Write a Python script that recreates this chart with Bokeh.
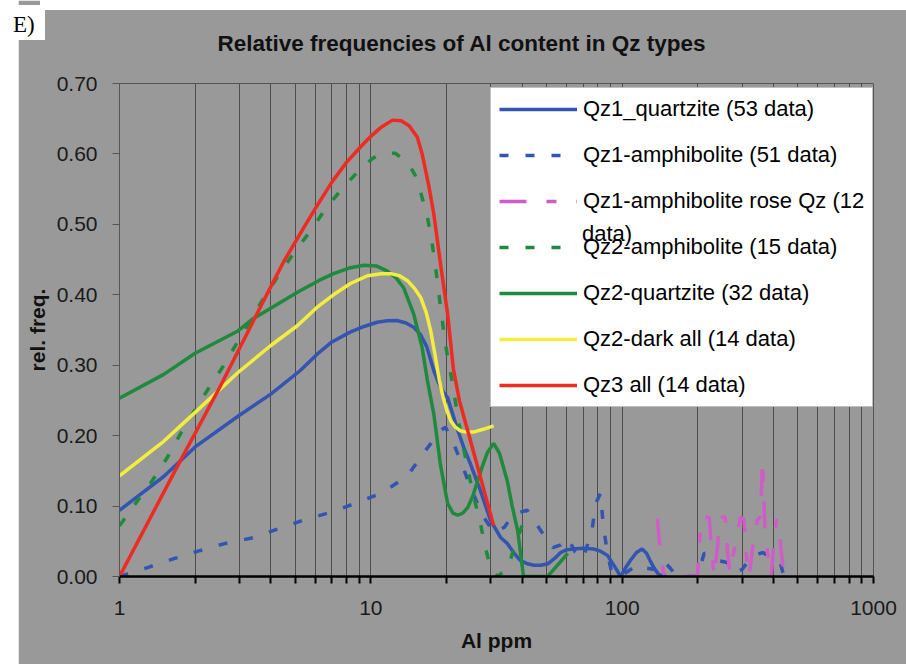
from bokeh.plotting import figure
from bokeh.layouts import row
from bokeh.models import (Legend, LegendItem, FixedTicker, Div, Spacer,
                          NumeralTickFormatter, PrintfTickFormatter)
from bokeh.embed import file_html
from bokeh.resources import INLINE

FONT = "Liberation Sans"

# ---------------- data ----------------
qz1_quartzite_x = [1, 1.5, 2, 3, 4, 5.24, 6.13, 7, 8.27, 9.4, 10.6, 11.6, 12.7, 13.8,
                   14.8, 15.8, 16.7, 17.8, 18.6, 19.4, 20.2, 21.2, 22.2, 23.5, 24.9, 27.3,
                   29.9, 32.9, 34.9, 37, 39.3, 42, 44.6, 47.5, 50.6, 54, 56.9, 60, 64, 70,
                   77, 82, 87.4, 93, 98.6, 103, 108, 114, 120, 125, 129, 134, 139, 145, 150]
qz1_quartzite_y = [0.094, 0.142, 0.184, 0.229, 0.259, 0.2925, 0.316, 0.333, 0.347, 0.355,
                   0.361, 0.363, 0.3635, 0.360, 0.354, 0.343, 0.326, 0.2925, 0.275, 0.262,
                   0.254, 0.230, 0.207, 0.182, 0.160, 0.122, 0.080, 0.055, 0.047, 0.034,
                   0.023, 0.018, 0.016, 0.016, 0.018, 0.026, 0.034, 0.038, 0.039, 0.040,
                   0.039, 0.036, 0.030, 0.015, 0.0, 0.012, 0.023, 0.034, 0.039, 0.033,
                   0.023, 0.012, 0.004, 0.0, 0.0]

qz1_amph_x = [1, 1.3, 1.67, 2.1, 2.64, 3.4, 4.3, 5.4, 6.9, 8.7, 11.1, 14.0, 16.2, 18.9,
              19.8, 21, 23, 25, 28, 31, 34, 37, 41.9, 47.5, 53, 57, 60.7, 65, 70, 76, 78.5,
              82, 84, 87, 91, 100, 108, 115, 125, 135, 146, 156, 165, 199, 205, 212, 225,
              245, 262, 280, 300, 330, 364, 395, 427, 440]
qz1_amph_y = [0.0, 0.013, 0.026, 0.037, 0.047, 0.055, 0.068, 0.080, 0.091, 0.104, 0.119,
              0.143, 0.175, 0.207, 0.212, 0.195, 0.160, 0.125, 0.085, 0.062, 0.070, 0.089,
              0.094, 0.065, 0.041, 0.045, 0.055, 0.035, 0.025, 0.068, 0.104, 0.118, 0.075,
              0.037, 0.004, 0.002, 0.010, 0.017, 0.012, 0.010, 0.023, 0.011, 0.0, 0.0,
              0.015, 0.033, 0.030, 0.022, 0.020, 0.005, 0.010, 0.030, 0.034, 0.025, 0.018,
              0.0]

qz1_rose_x = [138, 141, 146, 150, 175, 199, 203, 205, 222, 226, 232, 240, 244, 257, 262,
              268, 280, 295, 305, 312, 320, 330, 345, 355, 362, 366, 370, 380, 392, 400,
              410, 420, 428, 440]
qz1_rose_y = [0.082, 0.045, 0.005, 0.0, 0.0, 0.0, 0.040, 0.084, 0.084, 0.045, 0.0,
              0.045, 0.084, 0.084, 0.040, 0.005, 0.040, 0.084, 0.082, 0.030, 0.0, 0.040,
              0.080, 0.085, 0.165, 0.120, 0.060, 0.030, 0.0, 0.040, 0.080, 0.080, 0.040,
              0.0]

qz2_amph_x = [1, 1.16, 1.35, 1.55, 1.75, 2.0, 2.26, 2.57, 2.95, 3.3, 3.7, 4.3, 4.93,
              5.76, 6.6, 7.7, 9.1, 10.2, 11.2, 12.5, 14.0, 15.0, 15.8, 16.8, 17.5, 18.1,
              18.9, 19.8, 21.1, 22.7, 24.4, 25.6, 27.3, 28.6, 30, 32, 35, 38, 40.5]
qz2_amph_y = [0.072, 0.104, 0.136, 0.169, 0.203, 0.237, 0.267, 0.297, 0.333, 0.362,
              0.392, 0.428, 0.459, 0.491, 0.522, 0.551, 0.579, 0.594, 0.601, 0.601,
              0.588, 0.570, 0.545, 0.510, 0.475, 0.439, 0.385, 0.330, 0.275, 0.205,
              0.150, 0.115, 0.075, 0.040, 0.012, 0.0, 0.012, 0.050, 0.078]

qz2_quartzite_x = [1, 1.5, 2.0, 2.97, 3.4, 4.5, 5.25, 6.2, 7.1, 8.2, 9.4, 10.5, 11.6,
                   12.6, 13.5, 14.8, 16.0, 16.8, 17.8, 18.9, 20.2, 21.2, 22.2, 23.2, 24.3,
                   25.5, 26.6, 28, 29.1, 30.8, 32.5, 34.9, 36.5, 38.4, 40.5, 45, 50.5,
                   55, 60.7]
qz2_quartzite_y = [0.253, 0.287, 0.317, 0.349, 0.366, 0.392, 0.406, 0.420, 0.430, 0.438,
                   0.442, 0.441, 0.434, 0.424, 0.410, 0.373, 0.325, 0.278, 0.231, 0.160,
                   0.104, 0.090, 0.087, 0.090, 0.098, 0.115, 0.136, 0.160, 0.176, 0.189,
                   0.175, 0.136, 0.100, 0.065, 0.0, 0.0, 0.0, 0.015, 0.033]

qz2_dark_x = [1, 1.5, 2.0, 2.97, 4.0, 5.1, 6.1, 7.1, 8.3, 9.7, 11.0, 12.0, 13.0, 14.0,
              15.0, 15.8, 16.6, 17.3, 18.0, 18.7, 19.4, 20.1, 20.8, 21.7, 22.7, 24, 25.6,
              28, 30.8]
qz2_dark_y = [0.143, 0.192, 0.233, 0.290, 0.328, 0.356, 0.382, 0.400, 0.416, 0.427,
              0.430, 0.430, 0.427, 0.420, 0.408, 0.396, 0.375, 0.349, 0.315, 0.280,
              0.254, 0.235, 0.221, 0.212, 0.207, 0.205, 0.205, 0.209, 0.214]

qz3_x = [1, 1.72, 2.5, 3.75, 4.5, 5.3, 6.0, 7.0, 8.0, 9.0, 10.0, 11.0, 12.2, 13.2, 14.2,
         15.3, 16.0, 17.0, 17.8, 19.0, 20.2, 21.3, 22.5, 24.3, 27.3, 30.8]
qz3_y = [0.0, 0.160, 0.268, 0.392, 0.447, 0.490, 0.522, 0.560, 0.588, 0.608, 0.625,
         0.638, 0.648, 0.647, 0.640, 0.624, 0.600, 0.555, 0.515, 0.440, 0.373, 0.295,
         0.250, 0.207, 0.141, 0.072]

y_ticks = [0.0, 0.1, 0.2, 0.3, 0.4, 0.5, 0.6, 0.7]
x_ticks = [1, 10, 100, 1000]
x_minor = [2, 3, 4, 5, 6, 7, 8, 9, 20, 30, 40, 50, 60, 70, 80, 90,
           200, 300, 400, 500, 600, 700, 800, 900]

# ---------------- figure ----------------
BG = "#999999"
p = figure(x_axis_type="log", x_range=(1, 1000), y_range=(0, 0.7),
           frame_width=754, frame_height=493,
           min_border_left=101, min_border_right=33, min_border_top=83,
           min_border_bottom=88,
           output_backend="svg", toolbar_location=None,
           background_fill_color=BG, border_fill_color=BG,
           outline_line_color="#555555", outline_line_width=1)

p.title.text = "Relative frequencies of Al content in Qz types"
p.title.text_font = FONT
p.title.text_font_size = "22.5px"
p.title.text_font_style = "bold"
p.title.text_color = "#111111"
p.title.align = "left"
p.title.offset = 98
if "standoff" in p.title.properties():
    p.title.standoff = 56

xt = FixedTicker(ticks=x_ticks, minor_ticks=x_minor)
p.xaxis.ticker = xt
p.xgrid.ticker = xt
p.xaxis.formatter = PrintfTickFormatter(format="%d")
p.xgrid.grid_line_color = "#4d4d4d"
p.xgrid.minor_grid_line_color = "#4d4d4d"
p.xgrid.grid_line_width = 1
p.xgrid.minor_grid_line_width = 1
p.ygrid.visible = False

p.xaxis.axis_line_color = "black"
p.xaxis.axis_line_width = 2.5
p.xaxis.major_tick_line_color = "black"
p.xaxis.minor_tick_line_color = "black"
p.xaxis.major_tick_line_width = 2
p.xaxis.minor_tick_line_width = 2
p.xaxis.major_tick_out = 7
p.xaxis.major_tick_in = 0
p.xaxis.minor_tick_out = 7
p.xaxis.minor_tick_in = 0
p.xaxis.major_label_standoff = 17
p.xaxis.axis_label = "Al ppm"
p.xaxis.axis_label_standoff = 11

p.yaxis.ticker = FixedTicker(ticks=y_ticks)
p.yaxis.formatter = NumeralTickFormatter(format="0.00")
p.yaxis.axis_line_color = "#555555"
p.yaxis.major_tick_line_color = "#555555"
p.yaxis.major_tick_out = 7
p.yaxis.major_tick_in = 0
p.yaxis.minor_tick_line_color = None
p.yaxis.major_label_standoff = 15
p.yaxis.axis_label = "rel. freq."
p.yaxis.axis_label_standoff = 5

for ax in (p.xaxis, p.yaxis):
    ax.major_label_text_font = FONT
    ax.major_label_text_font_size = "21px"
    ax.major_label_text_color = "#1a1a1a"
    ax.axis_label_text_font = FONT
    ax.axis_label_text_font_size = "21px"
    ax.axis_label_text_font_style = "bold"
    ax.axis_label_text_color = "#111111"

BLUE = "#3454b2"
GREEN = "#1f8a3e"
PINK = "#d05cc8"
YELLOW = "#f2ee40"
RED = "#ee2a22"
LW = 3.5

r1 = p.line(qz1_quartzite_x, qz1_quartzite_y, line_color=BLUE, line_width=LW)
r2 = p.line(qz1_amph_x, qz1_amph_y, line_color=BLUE, line_width=LW, line_dash="9 17")
r3 = p.line(qz1_rose_x, qz1_rose_y, line_color=PINK, line_width=LW, line_dash="27 20 10 20")
r4 = p.line(qz2_amph_x, qz2_amph_y, line_color=GREEN, line_width=LW, line_dash="9 17")
r5 = p.line(qz2_quartzite_x, qz2_quartzite_y, line_color=GREEN, line_width=LW)
r6 = p.line(qz2_dark_x, qz2_dark_y, line_color=YELLOW, line_width=LW)
r7 = p.line(qz3_x, qz3_y, line_color=RED, line_width=LW)

legend = Legend(items=[
    LegendItem(label="Qz1_quartzite (53 data)", renderers=[r1]),
    LegendItem(label="Qz1-amphibolite (51 data)", renderers=[r2]),
    LegendItem(label="Qz1-amphibolite rose Qz (12", renderers=[r3]),
    LegendItem(label="Qz2-amphibolite (15 data)", renderers=[r4]),
    LegendItem(label="Qz2-quartzite (32 data)", renderers=[r5]),
    LegendItem(label="Qz2-dark all (14 data)", renderers=[r6]),
    LegendItem(label="Qz3 all (14 data)", renderers=[r7]),
], location=(371, 169))
legend.label_text_font = FONT
legend.label_text_font_size = "22px"
legend.label_text_color = "black"
legend.glyph_width = 78
legend.glyph_height = 20
legend.label_height = 20
legend.label_standoff = 6
legend.spacing = 20
legend.padding = 8
legend.margin = 0
legend.border_line_color = "#808080"
legend.border_line_width = 1
legend.background_fill_color = "white"
legend.background_fill_alpha = 1.0
p.add_layout(legend)

# second line of the wrapped legend label "... rose Qz (12 data)"
wrap = Legend(items=[LegendItem(label="data)", renderers=[r3])], location=(463, 329))
wrap.label_text_font = FONT
wrap.label_text_font_size = "22px"
wrap.label_text_color = "black"
wrap.glyph_width = 0
wrap.glyph_height = 1
wrap.label_height = 20
wrap.label_standoff = 0
wrap.padding = 0
wrap.margin = 0
wrap.border_line_color = None
wrap.background_fill_alpha = 0.0
p.add_layout(wrap)

# panel tag "E)" in the page's top-left corner
tag = Div(text="E)", styles={
    "position": "fixed", "left": "0px", "top": "0px", "z-index": "1000",
    "width": "40px", "height": "35px", "box-sizing": "border-box",
    "padding": "6px 0px 0px 8px", "line-height": "27px",
    "background-color": "white", "color": "black",
    "font-family": "Liberation Serif", "font-size": "23px"})

# thin white band above the grey chart area (as in the reference)
band = Div(text="", styles={
    "position": "fixed", "left": "40px", "top": "-6px", "z-index": "999",
    "width": "866px", "height": "16px", "background-color": "white",
    "border": "none", "margin": "0px", "padding": "0px"})

layout = row(Spacer(width=18, height=664), p, tag, band)

open("out.html", "w").write(file_html(layout, INLINE))
